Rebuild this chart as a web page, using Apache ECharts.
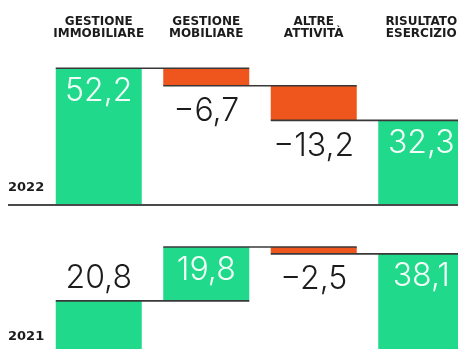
<!DOCTYPE html>
<html>
<head>
<meta charset="utf-8">
<script src="https://cdn.jsdelivr.net/npm/echarts@6/dist/echarts.min.js"></script>
<style>
  html, body { margin: 0; padding: 0; background: #ffffff; }
  #chart { width: 458px; height: 349px; }
</style>
</head>
<body>
<div id="chart"></div>
<script>
// Categories and yearly contributions (millions); the last entry is the total.
const categories = ['GESTIONE\nIMMOBILIARE', 'GESTIONE\nMOBILIARE', 'ALTRE\nATTIVITÀ', 'RISULTATO\nESERCIZIO'];
const years = ['2022', '2021'];
const values2022 = [52.2, -6.7, -13.2, 32.3];
const values2021 = [20.8, 19.8, -2.5, 38.1];

const GREEN = '#20d98b';
const ORANGE = '#ee561d';
const INK = '#1c1c1c';
const RULE = '#383838';
const VALUE_FONT = '300 32px Inter, "Open Sans", sans-serif';

// Turn contributions into floating [index, start, end, value] steps.
function steps(values) {
  let run = 0;
  return values.map(function (v, i) {
    const last = i === values.length - 1;
    const start = last ? 0 : run;
    const end = last ? v : run + v;
    run = end;
    return [i, start, end, v];
  });
}

function fmt(v) {
  const s = Math.abs(v).toFixed(1).replace('.', ',');
  return v < 0 ? '\u2212' + s : s;
}

function waterfall(gridIndex, values, labelsAbove) {
  const rows = steps(values);
  return {
    type: 'custom',
    xAxisIndex: gridIndex,
    yAxisIndex: gridIndex,
    data: rows,
    renderItem: function (params, api) {
      const i = api.value(0);
      const s = api.value(1);
      const e = api.value(2);
      const v = api.value(3);
      const band = api.size([1, 0])[0];
      const w = band * 0.8;
      const cx = api.coord([i, 0])[0];
      const yS = api.coord([i, s])[1];
      const yE = api.coord([i, e])[1];
      const top = Math.min(yS, yE);
      const bot = Math.max(yS, yE);
      const children = [{
        type: 'rect',
        shape: { x: cx - w / 2, y: top, width: w, height: bot - top },
        style: { fill: v < 0 ? ORANGE : GREEN },
        z2: 1
      }];
      // connector at the level where this step ends, reaching across the next bar
      if (i < rows.length - 1) {
        children.push({
          type: 'line',
          shape: { x1: cx - w / 2, y1: yE, x2: cx + band + w / 2, y2: yE },
          style: { stroke: RULE, lineWidth: 1.6 },
          z2: 5
        });
      }
      let ly, fill;
      if (v < 0) { ly = bot + 26; fill = INK; }
      else if (labelsAbove.indexOf(i) >= 0) { ly = top - 23; fill = INK; }
      else { ly = top + 23; fill = '#f2fff8'; }
      children.push({
        type: 'text',
        style: {
          text: fmt(v), x: cx, y: ly,
          align: 'center', verticalAlign: 'middle',
          textAlign: 'center', textVerticalAlign: 'middle',
          fill: fill, font: VALUE_FONT
        },
        z2: 10
      });
      return { type: 'group', children: children };
    }
  };
}

const chart = echarts.init(document.getElementById('chart'), null, { renderer: 'canvas' });

chart.setOption({
  animation: false,
  backgroundColor: '#ffffff',
  grid: [
    { left: 45, width: 430, top: 47.8, height: 157.2, outerBoundsMode: 'none', containLabel: false },
    { left: 45, width: 430, top: 194.3, height: 163.2, outerBoundsMode: 'none', containLabel: false }
  ],
  xAxis: [
    {
      type: 'category', gridIndex: 0, data: categories, position: 'top',
      axisLine: { show: false }, axisTick: { show: false },
      axisLabel: {
        interval: 0, margin: 8, color: INK,
        fontFamily: 'DejaVu Sans', fontWeight: 'bold', fontSize: 12, lineHeight: 12
      }
    },
    { type: 'category', gridIndex: 1, data: categories, show: false }
  ],
  yAxis: [
    { type: 'value', gridIndex: 0, min: 0, max: 60, show: false },
    { type: 'value', gridIndex: 1, min: 0, max: 60, show: false }
  ],
  series: [
    waterfall(0, values2022, []),
    waterfall(1, values2021, [0])
  ]
});

// Baseline rule and year captions, placed on the zero level of each panel.
const zero0 = chart.convertToPixel({ gridIndex: 0 }, [0, 0])[1];
const zero1 = chart.convertToPixel({ gridIndex: 1 }, [0, 0])[1];
chart.setOption({
  graphic: [
    { type: 'line', shape: { x1: 8, y1: zero0, x2: 458, y2: zero0 }, style: { stroke: '#4a4a4a', lineWidth: 2 }, z: 20 },
    { type: 'text', left: 8, top: zero0 - 24, style: { text: years[0], fill: INK, font: 'bold 13px "DejaVu Sans"' }, z: 20 },
    { type: 'text', left: 8, top: zero1 - 27, style: { text: years[1], fill: INK, font: 'bold 13px "DejaVu Sans"' }, z: 20 }
  ]
});
</script>
</body>
</html>
